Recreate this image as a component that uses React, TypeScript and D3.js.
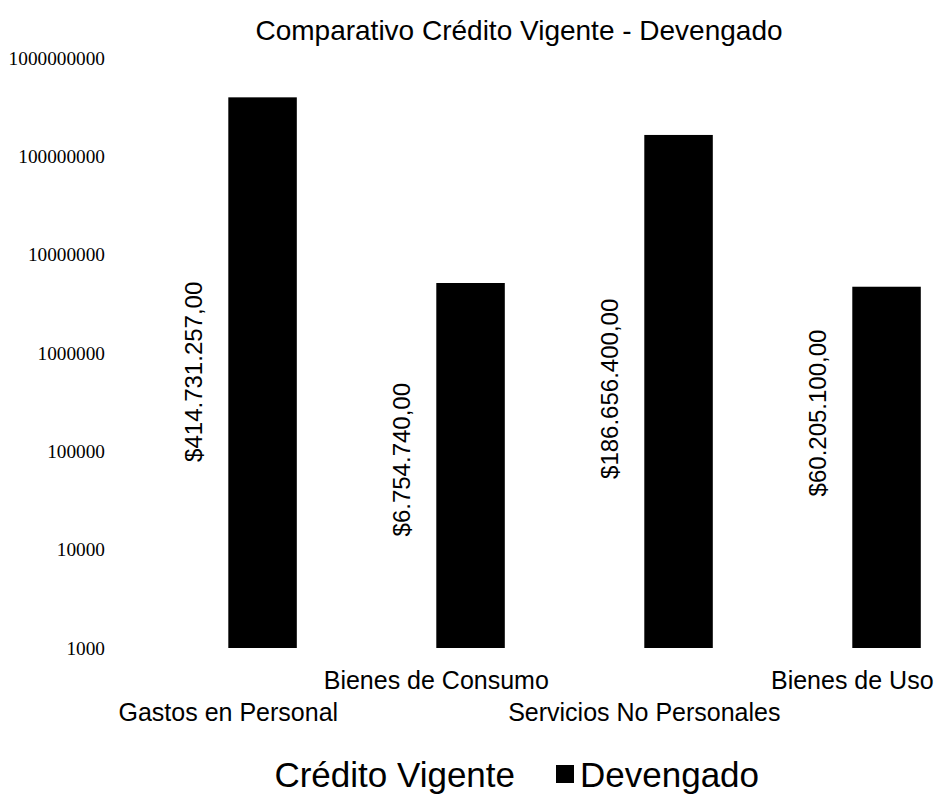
import React from "react";
import * as d3 from "d3";

const categories = ["Gastos en Personal", "Bienes de Consumo", "Servicios No Personales", "Bienes de Uso"];
const creditoVigente = [414731257, 6754740, 186656400, 60205100];
const devengado = [398000000, 5150000, 165000000, 4720000];
const creditoLabels = ["$414.731.257,00", "$6.754.740,00", "$186.656.400,00", "$60.205.100,00"];
const yTicks = [1000, 10000, 100000, 1000000, 10000000, 100000000, 1000000000];
const seriesNames = ["Crédito Vigente", "Devengado"];

const W = 939;
const H = 806;
const SANS = "'Liberation Sans', Arial, sans-serif";
const SERIF = "'Liberation Serif', 'Times New Roman', serif";

export default function App() {
  const x = d3.scaleBand<string>().domain(categories).range([124.3, 956.3]).paddingInner(0.3413).paddingOuter(0.1707);
  const inner = d3.scaleBand<string>().domain(seriesNames).range([0, x.bandwidth()]);
  const y = d3.scaleLog().domain([1000, 1e9]).range([648, 58]);

  return (
    <svg width={W} height={H} style={{ position: "absolute", left: 0, top: 0, background: "#fff" }}>
      <rect x={0} y={0} width={W} height={H} fill="#fff" />
      <text x={519} y={40} textAnchor="middle" fontFamily={SANS} fontSize={28} fill="#000">
        Comparativo Crédito Vigente - Devengado
      </text>
      {yTicks.map((t) => (
        <text key={t} x={105} y={y(t)} dy="0.35em" textAnchor="end" fontFamily={SERIF} fontSize={19.3} fill="#000">
          {String(t)}
        </text>
      ))}
      {categories.map((c, i) => {
        const x0 = x(c)!;
        const xc = x0 + inner("Crédito Vigente")!;
        const xd = x0 + inner("Devengado")!;
        const bw = inner.bandwidth();
        const yc = y(creditoVigente[i]);
        const yd = y(devengado[i]);
        const midC = y(Math.sqrt(creditoVigente[i] * 1000));
        return (
          <g key={c}>
            <rect x={xc} y={yc} width={bw} height={y(1000) - yc} fill="#fff" />
            <rect x={xd} y={yd} width={bw} height={y(1000) - yd} fill="#000" />
            <text
              transform={`translate(${xc + bw / 2 - 1},${midC}) rotate(-90)`}
              textAnchor="middle"
              dominantBaseline="central"
              fontFamily={SANS}
              fontSize={24}
              fill="#000"
            >
              {creditoLabels[i]}
            </text>
          </g>
        );
      })}
      {categories.map((c, i) => (
        <text
          key={c}
          x={x(c)! + x.bandwidth() / 2}
          y={i % 2 === 0 ? 721 : 689}
          textAnchor="middle"
          fontFamily={SANS}
          fontSize={25}
          fill="#000"
        >
          {c}
        </text>
      ))}
      <g>
        <rect x={250} y={765} width={18} height={18} fill="#fff" />
        <text x={515} y={787} textAnchor="end" fontFamily={SANS} fontSize={35} fill="#000">
          {seriesNames[0]}
        </text>
        <rect x={556} y={765} width={18} height={18} fill="#000" />
        <text x={580} y={787} fontFamily={SANS} fontSize={35} fill="#000">
          {seriesNames[1]}
        </text>
      </g>
    </svg>
  );
}
